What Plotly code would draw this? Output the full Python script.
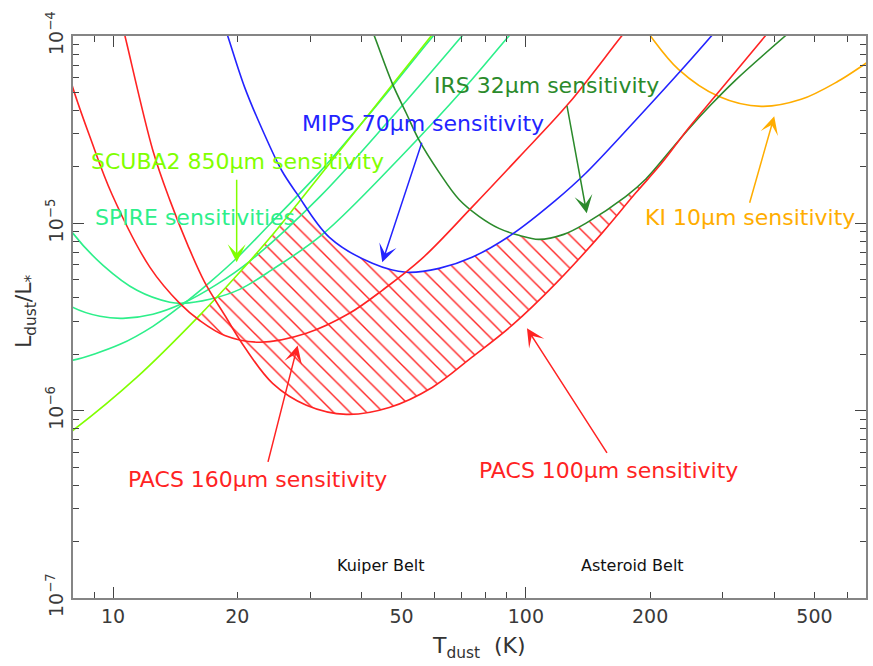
import numpy as np
import plotly.graph_objects as go

# ---------------- data (T in K, L_dust/L_*) ----------------
PACS160_T = [7.45, 8.0, 8.8, 9.94, 12.29, 14.51, 16.22, 18.65, 22.65, 29.41, 37.37, 44.89,
             56.09, 74.06, 96.18, 127.0, 170.6, 198.2]
PACS160_L = [9.14e-5, 5.26e-5, 2.88e-5, 1.43e-5, 5.82e-6, 3.74e-6, 3.03e-6, 2.52e-6, 2.32e-6,
             2.59e-6, 3.31e-6, 4.39e-6, 6.50e-6, 1.22e-5, 2.25e-5, 4.37e-5, 1.0e-4, 1.51e-4]

PACS100_T = [10.43, 10.69, 12.49, 13.73, 15.18, 16.68, 18.65, 20.84, 24.35, 29.41, 36.75, 46.68,
             59.29, 74.06, 92.52, 118.2, 152.7, 184.4, 213.1, 247.6, 292.6, 379.9, 415.3]
PACS100_L = [1.24e-4, 1.0e-4, 2.45e-5, 1.33e-5, 7.63e-6, 4.84e-6, 3.23e-6, 2.18e-6, 1.40e-6,
             1.07e-6, 9.56e-7, 1.04e-6, 1.33e-6, 1.93e-6, 2.85e-6, 4.78e-6, 8.84e-6, 1.45e-5,
             2.09e-5, 3.22e-5, 5.01e-5, 1.0e-4, 1.27e-4]

MIPS70_T = [18.34, 18.96, 20.84, 23.03, 25.60, 27.83, 33.43, 42.47, 51.32, 61.64, 74.06, 92.52,
            118.2, 139.6, 184.4, 234.2, 281.4, 305.9]
MIPS70_L = [1.24e-4, 1.0e-4, 5.32e-5, 3.14e-5, 1.92e-5, 1.45e-5, 8.42e-6, 6.12e-6, 5.48e-6,
            5.75e-6, 6.59e-6, 8.73e-6, 1.33e-5, 1.85e-5, 3.55e-5, 6.32e-5, 1.0e-4, 1.24e-4]

IRS32_T = [41.30, 42.95, 47.46, 51.32, 55.16, 61.64, 68.89, 76.99, 86.06, 96.18, 107.5, 123.5,
           139.6, 174.4, 195.0, 217.9, 247.6, 281.4, 321.6, 424.7, 482.6]
IRS32_L = [1.24e-4, 1.0e-4, 5.59e-5, 3.87e-5, 2.77e-5, 1.87e-5, 1.34e-5, 1.09e-5, 9.40e-6,
           8.63e-6, 8.21e-6, 8.73e-6, 1.0e-5, 1.39e-5, 1.72e-5, 2.28e-5, 3.18e-5, 4.32e-5,
           5.80e-5, 1.0e-4, 1.27e-4]

KI10_T = [187.5, 200.4, 234.2, 292.6, 371.6, 464.2, 570.2, 666.4, 712.4]
KI10_L = [1.24e-4, 1.0e-4, 6.64e-5, 4.77e-5, 4.21e-5, 4.59e-5, 5.73e-5, 7.15e-5, 7.89e-5]

SCUBA2_T = [7.45, 8.0, 11.43, 15.95, 20.27, 23.94, 28.29, 39.50, 58.96, 63.74]
SCUBA2_L = [7.03e-7, 7.85e-7, 1.51e-6, 3.11e-6, 5.48e-6, 8.32e-6, 1.31e-5, 3.30e-5, 1.0e-4, 1.24e-4]

SPIRE250_T = [7.45, 8.0, 9.46, 11.43, 13.73, 14.76, 17.15, 20.27, 24.35, 32.15, 49.34, 71.62,
              90.99, 99.44]
SPIRE250_L = [1.13e-5, 8.84e-6, 5.97e-6, 4.39e-6, 3.79e-6, 3.74e-6, 3.93e-6, 4.44e-6, 5.68e-6,
              8.73e-6, 2.22e-5, 5.39e-5, 1.0e-4, 1.24e-4]

SPIRE350_T = [7.45, 8.0, 9.30, 10.57, 12.49, 14.76, 17.84, 21.42, 31.62, 46.68, 70.04, 76.14]
SPIRE350_L = [3.98e-6, 3.56e-6, 3.19e-6, 3.11e-6, 3.27e-6, 3.74e-6, 4.72e-6, 6.27e-6, 1.38e-5,
              3.55e-5, 1.0e-4, 1.24e-4]

SPIRE500_T = [7.45, 8.0, 10.40, 12.49, 14.76, 17.15, 20.04, 25.31, 31.62, 44.16, 59.62, 64.81]
SPIRE500_L = [1.83e-6, 1.86e-6, 2.26e-6, 2.82e-6, 3.69e-6, 4.84e-6, 6.59e-6, 1.12e-5, 1.87e-5,
              4.43e-5, 1.0e-4, 1.24e-4]

X_TICKS = [10, 20, 50, 100, 200, 500]
X_TICKTEXT = ["10", "20", "50", "100", "200", "500"]
X_MINOR = [9, 30, 40, 60, 70, 80, 90, 300, 400, 600]
X_MAJOR_LONG = [10, 100]
Y_TICKS = [1e-7, 1e-6, 1e-5, 1e-4]
Y_TICKTEXT = ["10<sup>\u22127</sup>", "10<sup>\u22126</sup>", "10<sup>\u22125</sup>", "10<sup>\u22124</sup>"]
Y_MINOR = [m * 10.0 ** e for e in (-7, -6, -5) for m in range(2, 10)]

# ---------------- layout geometry ----------------
FIG_W, FIG_H = 873, 666
M_L, M_R, M_T, M_B = 73, 5, 36, 68
PW, PH = FIG_W - M_L - M_R, FIG_H - M_T - M_B
X_RANGE = [np.log10(8.0), np.log10(666.5)]
Y_RANGE = [-7.0, -4.0]
DX = X_RANGE[1] - X_RANGE[0]
DY = Y_RANGE[1] - Y_RANGE[0]

RED = "#ff2323"
BLUE = "#2323ff"
IRS_C = "#2b8a2b"
KI_C = "#ffad00"
LIME = "#80ff00"
SPRING = "#2def8a"
FONT = "DejaVu Sans"


def to_px(T, L):
    x = (np.log10(np.asarray(T, float)) - X_RANGE[0]) / DX * PW
    y = (np.log10(np.asarray(L, float)) - Y_RANGE[0]) / DY * PH
    return np.column_stack([x, y])


def spline_dense(pts, smooth=1.0, n=30):
    """Same centripetal Catmull-Rom construction Plotly uses for line.shape='spline'."""
    pts = np.asarray(pts, float)
    m = len(pts)
    tang = []
    for i in range(1, m - 1):
        p0, p1, p2 = pts[i - 1], pts[i], pts[i + 1]
        d1, d2 = p0 - p1, p2 - p1
        d1a, d2a = (d1 @ d1) ** 0.25, (d2 @ d2) ** 0.25
        num = (d2a * d2a * d1 - d1a * d1a * d2) * smooth
        den1 = 3 * d2a * (d1a + d2a)
        den2 = 3 * d1a * (d1a + d2a)
        tang.append((p1 + num / den1, p1 - num / den2))
    t = np.linspace(0, 1, n)[:, None]
    out = [pts[:1]]
    c = tang[0][0]
    out.append(((1 - t) ** 2 * pts[0] + 2 * (1 - t) * t * c + t ** 2 * pts[1])[1:])
    for i in range(2, m - 1):
        a, b = pts[i - 1], pts[i]
        c1, c2 = tang[i - 2][1], tang[i - 1][0]
        seg = (1 - t) ** 3 * a + 3 * (1 - t) ** 2 * t * c1 + 3 * (1 - t) * t ** 2 * c2 + t ** 3 * b
        out.append(seg[1:])
    c = tang[m - 3][1]
    out.append(((1 - t) ** 2 * pts[m - 2] + 2 * (1 - t) * t * c + t ** 2 * pts[m - 1])[1:])
    return np.vstack(out)


XG = np.arange(0.0, PW + 0.25, 0.5)


def on_grid(T, L):
    d = spline_dense(to_px(T, L))
    o = np.argsort(d[:, 0])
    return np.interp(XG, d[o, 0], d[o, 1], left=np.inf, right=np.inf)


# hatched region: above the PACS limits, below SCUBA2 / MIPS / IRS limits
lower = np.minimum(on_grid(PACS100_T, PACS100_L), on_grid(PACS160_T, PACS160_L))
upper = np.minimum.reduce([on_grid(SCUBA2_T, SCUBA2_L), on_grid(MIPS70_T, MIPS70_L),
                           on_grid(IRS32_T, IRS32_L)])
upper = np.minimum(upper, PH)
ok = (upper > lower) & np.isfinite(lower)

hx, hy = [], []
idx = np.flatnonzero(ok)
if idx.size:
    runs = np.split(idx, np.flatnonzero(np.diff(idx) > 1) + 1)
    for r in runs:
        xs = np.concatenate([XG[r], XG[r][::-1]])
        ys = np.concatenate([upper[r], lower[r][::-1]])
        hx += list(10 ** (X_RANGE[0] + xs / PW * DX)) + [None]
        hy += list(10 ** (Y_RANGE[0] + ys / PH * DY)) + [None]

fig = go.Figure()
fig.add_trace(go.Scatter(
    x=hx, y=hy, mode="none", fill="toself", fillcolor="rgba(0,0,0,0)",
    fillpattern=dict(shape="\\", fgcolor=RED, bgcolor="rgba(0,0,0,0)", fgopacity=1,
                     size=11.7, solidity=0.12, fillmode="overlay"),
    hoverinfo="skip", showlegend=False))

curves = [
    (SPIRE250_T, SPIRE250_L, SPRING),
    (SPIRE350_T, SPIRE350_L, SPRING),
    (SPIRE500_T, SPIRE500_L, SPRING),
    (SCUBA2_T, SCUBA2_L, LIME),
    (KI10_T, KI10_L, KI_C),
    (IRS32_T, IRS32_L, IRS_C),
    (MIPS70_T, MIPS70_L, BLUE),
    (PACS160_T, PACS160_L, RED),
    (PACS100_T, PACS100_L, RED),
]
for T, L, col in curves:
    fig.add_trace(go.Scatter(x=T, y=L, mode="lines",
                             line=dict(color=col, width=1.6, shape="spline", simplify=False),
                             hoverinfo="skip", showlegend=False))

# dummy trace so the overlay axis (long decade ticks) is drawn
fig.add_trace(go.Scatter(x=[None], y=[None], xaxis="x2", yaxis="y", showlegend=False,
                         hoverinfo="skip"))

ann = []


def label(text, T, L, color, size=22):
    ann.append(dict(x=np.log10(T), y=np.log10(L), xref="x", yref="y", text=text,
                    showarrow=False, xanchor="center", yanchor="middle",
                    font=dict(family=FONT, size=size, color=color)))


def arrow(T, L, ax, ay, color):
    ann.append(dict(x=np.log10(T), y=np.log10(L), xref="x", yref="y", text="",
                    showarrow=True, ax=ax, ay=ay, arrowhead=3, arrowsize=2.0,
                    arrowwidth=1.5, arrowcolor=color, standoff=0, startstandoff=0))


label("MIPS 70\u03bcm sensitivity", 56.4, 3.42e-5, BLUE)
label("IRS 32\u03bcm sensitivity", 112.1, 5.45e-5, IRS_C)
label("SCUBA2 850\u03bcm sensitivity", 20.04, 2.14e-5, LIME)
label("SPIRE sensitivities", 15.78, 1.077e-5, SPRING)
label("KI 10\u03bcm sensitivity", 349.6, 1.077e-5, KI_C)
label("PACS 160\u03bcm sensitivity", 22.4, 4.30e-7, RED)
label("PACS 100\u03bcm sensitivity", 158.7, 4.80e-7, RED)
label("Kuiper Belt", 44.4, 1.49e-7, "#111111", size=16)
label("Asteroid Belt", 180.8, 1.49e-7, "#111111", size=16)

arrow(19.93, 6.19e-6, 0, -84, LIME)
arrow(44.89, 6.19e-6, 40, -121, BLUE)
arrow(140.4, 1.131e-5, -20, -109, IRS_C)
arrow(399.5, 3.73e-5, -25, 88, KI_C)
arrow(28.0, 2.23e-6, -30, 118, RED)
arrow(100.6, 2.75e-6, 81, 126, RED)

# axis titles
ann.append(dict(xref="paper", yref="paper", x=(480 - M_L) / PW, y=0, yshift=-49,
                xanchor="center", yanchor="middle", showarrow=False,
                text="T<sub>dust</sub>  (K)", font=dict(family=FONT, size=22, color="#333333")))
ann.append(dict(xref="paper", yref="paper", x=0, xshift=-48, y=(M_T + PH - 311) / PH,
                xanchor="center", yanchor="middle", showarrow=False, textangle=-90,
                text="L<sub>dust</sub>/L<sub>*</sub>", font=dict(family=FONT, size=22, color="#333333")))

AX_LINE = "#858585"
TICK_C = "#444444"
fig.update_layout(
    width=FIG_W, height=FIG_H, autosize=False,
    margin=dict(l=M_L, r=M_R, t=M_T, b=M_B, pad=0),
    paper_bgcolor="white", plot_bgcolor="white",
    showlegend=False, hovermode=False,
    annotations=ann,
    xaxis=dict(type="log", range=X_RANGE, tickmode="array", tickvals=X_TICKS,
               ticktext=X_TICKTEXT, ticks="inside", ticklen=6, tickwidth=1.2,
               tickcolor=TICK_C, showline=True, linecolor=AX_LINE, linewidth=2,
               mirror="ticks", showgrid=False, zeroline=False,
               tickfont=dict(family=FONT, size=19, color="#3a3a3a"),
               minor=dict(tickmode="array", tickvals=X_MINOR, ticks="inside", ticklen=6,
                          tickwidth=1.2, tickcolor=TICK_C, showgrid=False)),
    xaxis2=dict(type="log", range=X_RANGE, overlaying="x", anchor="y", side="bottom",
                tickmode="array", tickvals=X_MAJOR_LONG, ticks="inside", ticklen=11,
                tickwidth=1.2, tickcolor=TICK_C, showticklabels=False, showline=False,
                mirror="ticks", showgrid=False, zeroline=False),
    yaxis=dict(type="log", range=Y_RANGE, tickmode="array", tickvals=Y_TICKS,
               ticktext=Y_TICKTEXT, ticks="inside", ticklen=11, tickwidth=1.2,
               tickcolor=TICK_C, showline=True, linecolor=AX_LINE, linewidth=2,
               mirror="ticks", showgrid=False, zeroline=False, tickangle=-90,
               tickfont=dict(family=FONT, size=19, color="#3a3a3a"),
               minor=dict(tickmode="array", tickvals=Y_MINOR, ticks="inside", ticklen=6,
                          tickwidth=1.2, tickcolor=TICK_C, showgrid=False)),
)

fig.write_html("out.html")
